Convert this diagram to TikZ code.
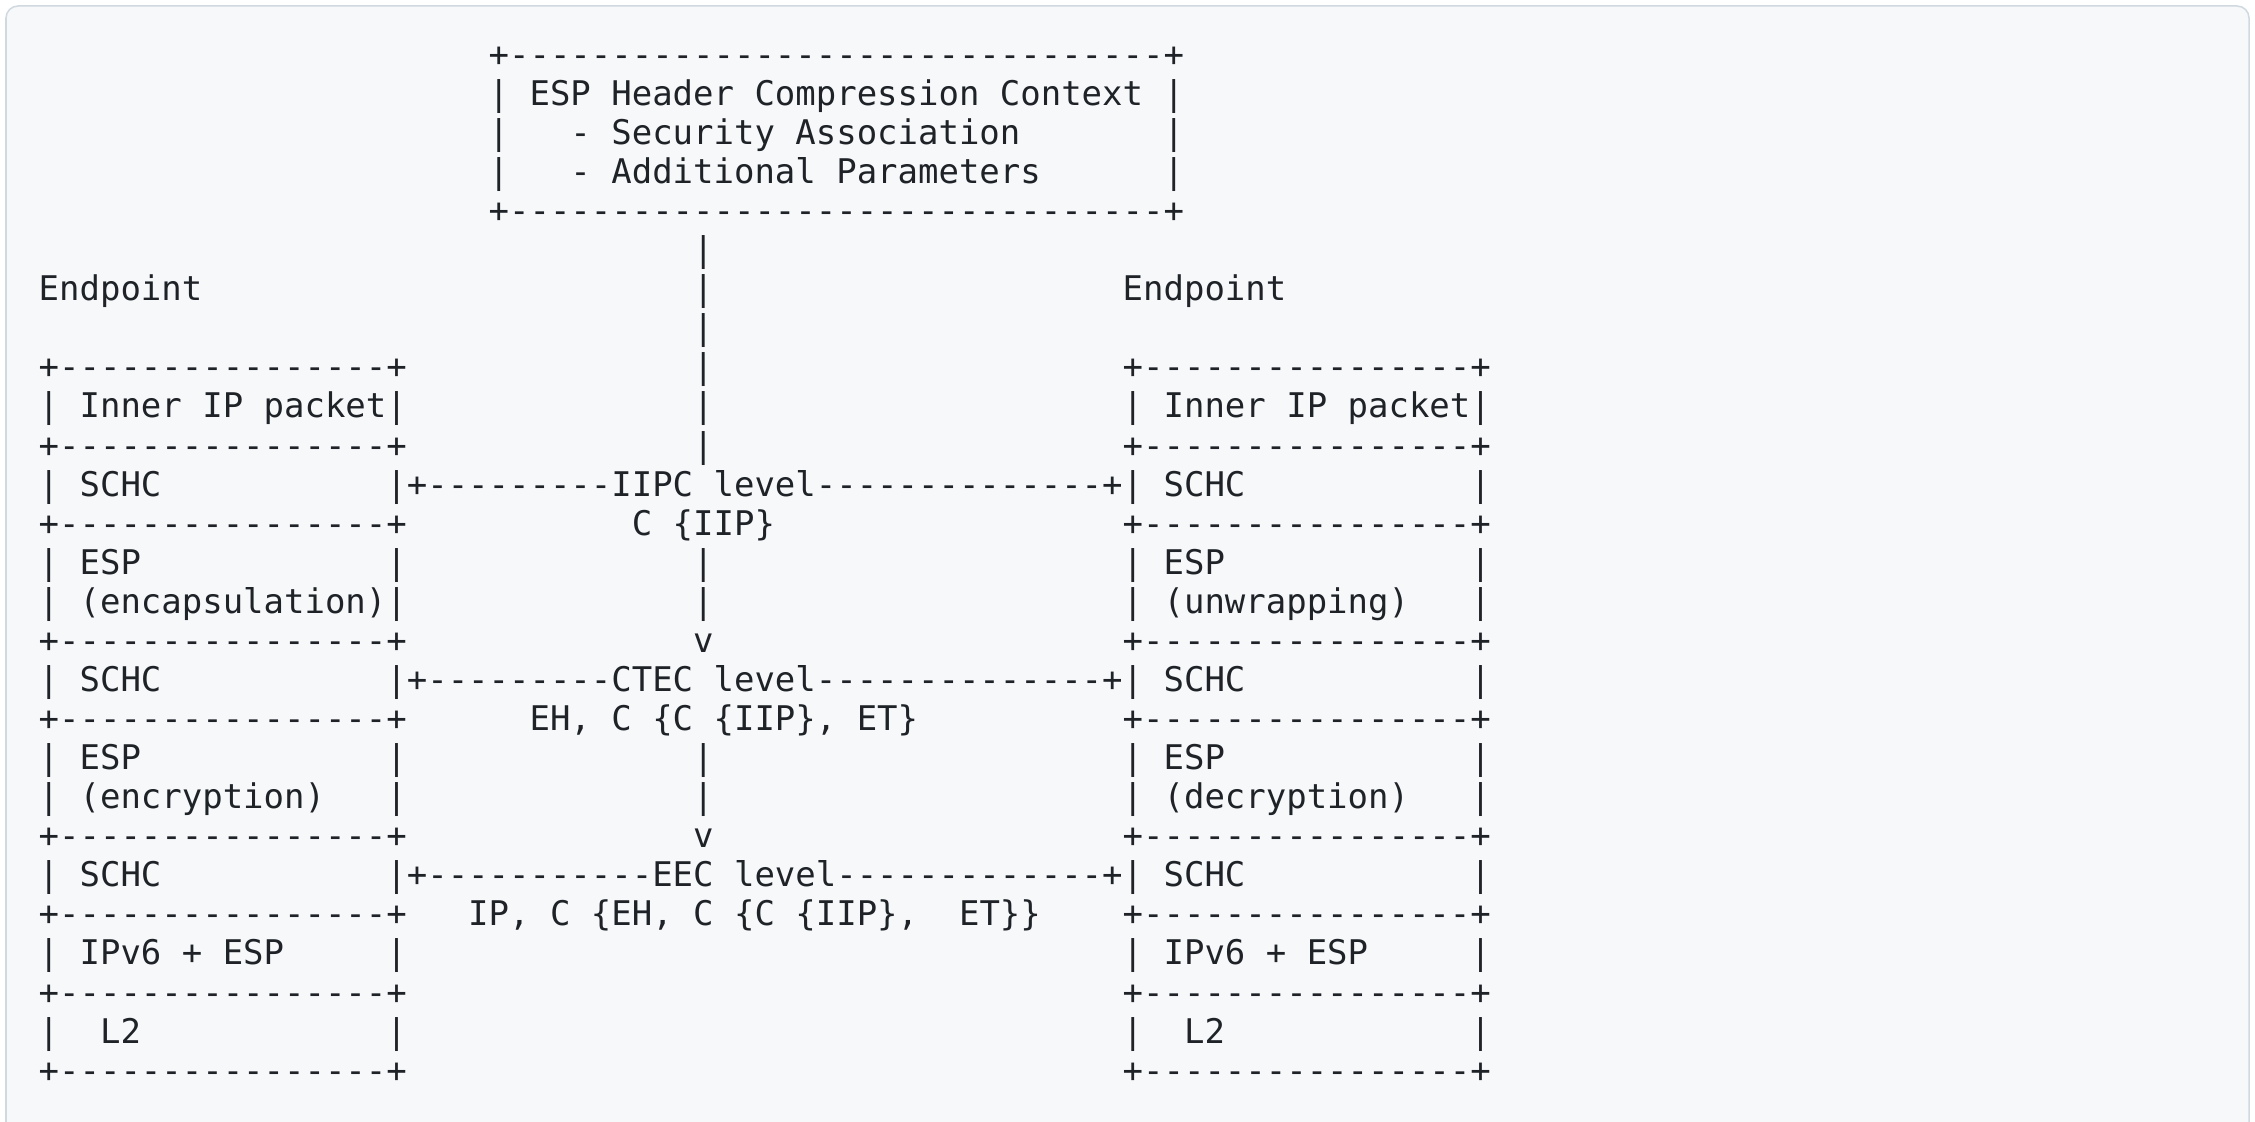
\documentclass[tikz,border=0pt]{standalone}
\usepackage{fontspec}
\setmonofont{DejaVu Sans Mono}
\definecolor{codeText}{HTML}{1F2328}
\definecolor{codeBack}{HTML}{F6F8FA}
\definecolor{codeFrame}{HTML}{D1D9E0}

\begin{document}
\begin{tikzpicture}[x=0.01cm, y=-0.01cm]
	\tikzstyle{Frame} = [draw=codeFrame, fill=codeBack, line width=0.015cm, rounded corners=0.12cm]
	\tikzstyle{Line} = [anchor=base west, inner sep=0pt, text=codeText, font=\ttfamily\fontsize{9.66pt}{11pt}\selectfont]
	
	\useasboundingbox (0,0) rectangle (2255,1122);
	\draw[Frame] (6,6) rectangle (2249,1170);
	
	% one unit = one character cell / one text row
	\begin{scope}[shift={(38,66.3)}, x=0.2044cm, y=-0.3905cm]
		\node (ctxTop) [Line] at (22,0) {+--------------------------------+};
		\node (ctxTitle) [Line] at (22,1) {| ESP Header Compression Context |};
		\node (ctxLeftA) [Line] at (22,2) {|};
		\node (ctxSecAssoc) [Line] at (26,2) {- Security Association};
		\node (ctxRightA) [Line] at (55,2) {|};
		\node (ctxLeftB) [Line] at (22,3) {|};
		\node (ctxParams) [Line] at (26,3) {- Additional Parameters};
		\node (ctxRightB) [Line] at (55,3) {|};
		\node (ctxBottom) [Line] at (22,4) {+--------------------------------+};
		
		\node (leftEndpoint) [Line] at (0,6) {Endpoint};
		\node (rightEndpoint) [Line] at (53,6) {Endpoint};
		
		\foreach \r in {8,10,12,15,17,20,22,24,26} {
			\node (leftEdge\r) [Line] at (0,\r) {+----------------+};
			\node (rightEdge\r) [Line] at (53,\r) {+----------------+};
		}
		\foreach \r in {5,6,7,8,9,10,13,14,18,19}
			\node (ctxBar\r) [Line] at (32,\r) {|};
		\node (arrowCtec) [Line] at (32,15) {v};
		\node (arrowEec) [Line] at (32,20) {v};
		
		\node (leftInner) [Line] at (0,9) {| Inner IP packet|};
		\node (rightInner) [Line] at (53,9) {| Inner IP packet|};
		
		\node (leftSchcA) [Line] at (0,11) {| SCHC};
		\node (iipcLevel) [Line] at (17,11) {|+---------IIPC level--------------+|};
		\node (rightSchcA) [Line] at (55,11) {SCHC};
		\node (rightSchcAEnd) [Line] at (70,11) {|};
		\node (iipcLabel) [Line] at (29,12) {C \{IIP\}};
		
		\node (leftEspA) [Line] at (0,13) {| ESP};
		\node (leftEspAEnd) [Line] at (17,13) {|};
		\node (rightEspA) [Line] at (53,13) {| ESP};
		\node (rightEspAEnd) [Line] at (70,13) {|};
		\node (leftEncaps) [Line] at (0,14) {| (encapsulation)|};
		\node (rightUnwrap) [Line] at (53,14) {| (unwrapping)};
		\node (rightUnwrapEnd) [Line] at (70,14) {|};
		
		\node (leftSchcB) [Line] at (0,16) {| SCHC};
		\node (ctecLevel) [Line] at (17,16) {|+---------CTEC level--------------+|};
		\node (rightSchcB) [Line] at (55,16) {SCHC};
		\node (rightSchcBEnd) [Line] at (70,16) {|};
		\node (ctecLabel) [Line] at (24,17) {EH, C \{C \{IIP\}, ET\}};
		
		\node (leftEspB) [Line] at (0,18) {| ESP};
		\node (leftEspBEnd) [Line] at (17,18) {|};
		\node (rightEspB) [Line] at (53,18) {| ESP};
		\node (rightEspBEnd) [Line] at (70,18) {|};
		\node (leftEncrypt) [Line] at (0,19) {| (encryption)};
		\node (leftEncryptEnd) [Line] at (17,19) {|};
		\node (rightDecrypt) [Line] at (53,19) {| (decryption)};
		\node (rightDecryptEnd) [Line] at (70,19) {|};
		
		\node (leftSchcC) [Line] at (0,21) {| SCHC};
		\node (eecLevel) [Line] at (17,21) {|+-----------EEC level-------------+|};
		\node (rightSchcC) [Line] at (55,21) {SCHC};
		\node (rightSchcCEnd) [Line] at (70,21) {|};
		\node (eecLabel) [Line] at (21,22) {IP, C \{EH, C \{C \{IIP\},};
		\node (eecLabelEnd) [Line] at (45,22) {ET\}\}};
		
		\node (leftIpv) [Line] at (0,23) {| IPv6 + ESP};
		\node (leftIpvEnd) [Line] at (17,23) {|};
		\node (rightIpv) [Line] at (53,23) {| IPv6 + ESP};
		\node (rightIpvEnd) [Line] at (70,23) {|};
		
		\node (leftLtwo) [Line] at (0,25) {|};
		\node (leftLtwoText) [Line] at (3,25) {L2};
		\node (leftLtwoEnd) [Line] at (17,25) {|};
		\node (rightLtwo) [Line] at (53,25) {|};
		\node (rightLtwoText) [Line] at (56,25) {L2};
		\node (rightLtwoEnd) [Line] at (70,25) {|};
	\end{scope}
\end{tikzpicture}
\end{document}
